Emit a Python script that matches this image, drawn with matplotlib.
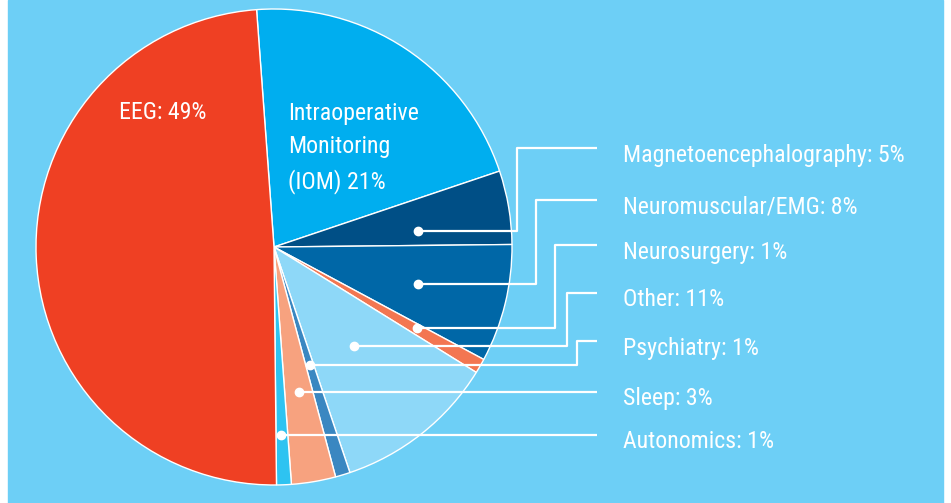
import matplotlib
matplotlib.use('Agg')
import matplotlib.pyplot as plt
from matplotlib import font_manager
from matplotlib.patches import Rectangle

# Chart data
labels = ['Intraoperative Monitoring (IOM)', 'Magnetoencephalography', 'Neuromuscular/EMG',
          'Neurosurgery', 'Other', 'Psychiatry', 'Sleep', 'Autonomics', 'EEG']
values = [21, 5, 8, 1, 11, 1, 3, 1, 49]
colors = ['#00aeef', '#004f86', '#0067a7', '#f37651', '#8ed8f8',
          '#3a87c1', '#f7a27f', '#2ec3f1', '#ef4023']

# Pick a condensed font if available
installed = {f.name for f in font_manager.fontManager.ttflist}
font = 'DejaVu Sans'
for name in ['Roboto Condensed', 'Liberation Sans Narrow', 'DejaVu Sans Condensed']:
    if name in installed:
        font = name
        break
plt.rcParams['font.family'] = [font, 'DejaVu Sans']

W, H = 951, 503
fig = plt.figure(figsize=(W / 100, H / 100), dpi=100, facecolor='white')
ax = fig.add_axes([0, 0, 1, 1])

ax.add_patch(Rectangle((8, 0), 935, H, color='#6dcff6', zorder=0))

cx, cy, r = 274, H - 247, 238
ax.pie(values, colors=colors, startangle=94.2, counterclock=False,
       center=(cx, cy), radius=r, frame=True,
       wedgeprops=dict(edgecolor='white', linewidth=1.0))
ax.set_xlim(0, W)
ax.set_ylim(0, H)
ax.set_aspect('equal')
ax.axis('off')

fs = 17.2
# Text inside the pie
ax.text(163, H - 112, 'EEG: 49%', color='white', fontsize=fs, ha='center', va='center')
ax.text(288, H - 148, 'Intraoperative\nMonitoring\n(IOM) 21%', color='white', fontsize=fs,
        ha='left', va='center', linespacing=1.55)

# Right-hand labels with leader lines: (dot_x, dot_y, elbow_x, label_y) in pixels
side = [
    ('Magnetoencephalography: 5%', 418, 231, 517, 148),
    ('Neuromuscular/EMG: 8%', 418, 284, 536, 200),
    ('Neurosurgery: 1%', 417, 328, 555, 245),
    ('Other: 11%', 354, 346, 567, 293),
    ('Psychiatry: 1%', 310, 365, 577, 341),
    ('Sleep: 3%', 299, 392, None, 392),
    ('Autonomics: 1%', 281, 435, None, 435),
]
line_end = 597
for text, dx, dy, ex, ly in side:
    if ex is None:
        xs, ys = [dx, line_end], [dy, dy]
    else:
        xs, ys = [dx, ex, ex, line_end], [dy, dy, ly, ly]
    ax.plot(xs, [H - y for y in ys], color='white', lw=1.6, solid_capstyle='butt', zorder=5)
    ax.plot(dx, H - dy, 'o', color='white', ms=6, zorder=6)
    ax.text(623, H - ly - 7, text, color='white', fontsize=fs, ha='left', va='center')

fig.savefig('out.png', dpi=100, facecolor='white')
